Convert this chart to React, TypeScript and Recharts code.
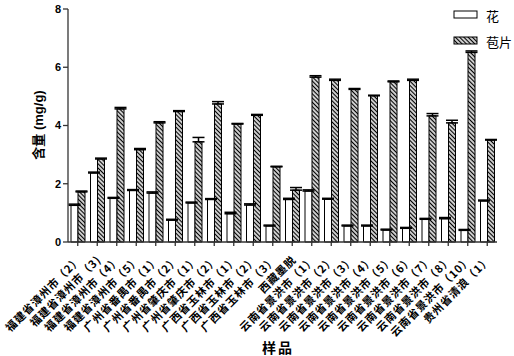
import React from 'react';
import { BarChart, Bar, XAxis, YAxis, ErrorBar, Legend, Label } from 'recharts';

const categories = [
  '福建省漳州市（2）',
  '福建省漳州市（3)',
  '福建省漳州市（4）',
  '福建省漳州市（5）',
  '广州省番禺市（1）',
  '广州省番禺市（2）',
  '广州省肇庆市（1）',
  '广州省肇庆市（2）',
  '广西省玉林市（1）',
  '广西省玉林市（2）',
  '广西省玉林市（3）',
  '西藏墨脱',
  '云南省景洪市（1）',
  '云南省景洪市（2）',
  '云南省景洪市（3）',
  '云南省景洪市（4）',
  '云南省景洪市（5）',
  '云南省景洪市（6）',
  '云南省景洪市（7）',
  '云南省景洪市（8）',
  '云南省景洪市（10）',
  '贵州省清浪（1）',
];

const flower = [1.26, 2.37, 1.5, 1.77, 1.68, 0.75, 1.34, 1.46, 0.97, 1.27, 0.55, 1.46, 1.75, 1.47, 0.55, 0.55, 0.41, 0.47, 0.78, 0.8, 0.4, 1.41];
const bract = [1.72, 2.85, 4.57, 3.17, 4.09, 4.48, 3.44, 4.74, 4.05, 4.35, 2.58, 1.78, 5.66, 5.55, 5.24, 5.02, 5.5, 5.55, 4.33, 4.09, 6.51, 3.5];
const flowerErr = [0.04, 0.03, 0.03, 0.03, 0.04, 0.03, 0.03, 0.03, 0.05, 0.04, 0.03, 0.04, 0.04, 0.03, 0.03, 0.03, 0.03, 0.03, 0.03, 0.04, 0.03, 0.03];
const bractErr = [0.03, 0.03, 0.05, 0.04, 0.04, 0.03, 0.15, 0.08, 0.02, 0.03, 0.02, 0.09, 0.05, 0.04, 0.03, 0.02, 0.03, 0.04, 0.08, 0.09, 0.05, 0.02];
const yTicks = [0, 2, 4, 6, 8];
const seriesNames = ['花', '苞片'];

const data = categories.map((name, i) => ({
  name,
  flower: flower[i],
  bract: bract[i],
  fe: [0, flowerErr[i]],
  be: [0, bractErr[i]],
}));

const CJK = '"Noto Sans CJK SC", sans-serif';
const LAT = '"Liberation Sans", "Noto Sans CJK SC", sans-serif';

const CatTick = (props: any) => {
  const { x, y, payload } = props;
  const ax = x + 1;
  const ay = y + 9;
  return (
    <text
      x={ax}
      y={ay}
      textAnchor="end"
      dominantBaseline="central"
      transform={`rotate(-45 ${ax} ${ay})`}
      fontFamily={CJK}
      fontWeight="bold"
      fontSize={11}
      letterSpacing={0.8}
      fill="#000"
    >
      {payload.value}
    </text>
  );
};

const renderLegend = () => (
  <svg width={64} height={50}>
    <rect x={4} y={11} width={23} height={7} fill="#fff" stroke="#000" strokeWidth={1} />
    <text x={36} y={15} dominantBaseline="central" fontFamily={CJK} fontSize={13} fill="#000">
      {seriesNames[0]}
    </text>
    <rect x={4} y={37} width={23} height={7} fill="url(#hatch)" stroke="#000" strokeWidth={1} />
    <text x={36} y={41} dominantBaseline="central" fontFamily={CJK} fontSize={13} fill="#000">
      {seriesNames[1]}
    </text>
  </svg>
);

export default function App() {
  return (
    <div style={{ position: 'absolute', left: 0, top: 0 }}>
      <BarChart
        width={514}
        height={356}
        data={data}
        margin={{ top: 9, right: 17, left: 0, bottom: 0 }}
        barGap={0}
        barSize={7}
      >
        <defs>
          <pattern id="hatch" patternUnits="userSpaceOnUse" width={3} height={3} patternTransform="rotate(45)">
            <rect x={0} y={0} width={3} height={3} fill="#fff" />
            <line x1={0} y1={1.5} x2={3} y2={1.5} stroke="#000" strokeWidth={1.4} />
          </pattern>
        </defs>
        <XAxis
          dataKey="name"
          interval={0}
          height={114}
          tick={<CatTick />}
          tickSize={4}
          axisLine={{ stroke: '#333', strokeWidth: 1.3 }}
          tickLine={{ stroke: '#333', strokeWidth: 1.3 }}
        >
          <Label
            content={() => (
              <text x={278} y={347} textAnchor="middle" dominantBaseline="central" fontFamily={CJK} fontWeight="bold" fontSize={14} letterSpacing={2} fill="#000">
                样品
              </text>
            )}
          />
        </XAxis>
        <YAxis
          width={68}
          domain={[0, 8]}
          ticks={yTicks}
          tickSize={5}
          tick={{ fontFamily: LAT, fontWeight: 'bold', fontSize: 11, fill: '#000' }}
          axisLine={{ stroke: '#333', strokeWidth: 1.3 }}
          tickLine={{ stroke: '#333', strokeWidth: 1.3 }}
        >
          <Label
            content={() => (
              <text
                x={38}
                y={125}
                textAnchor="middle"
                dominantBaseline="central"
                transform="rotate(-90 38 125)"
                fontFamily={LAT}
                fontWeight="bold"
                fontSize={13}
                fill="#000"
              >
                含量  (mg/g)
              </text>
            )}
          />
        </YAxis>
        <Legend
          layout="horizontal"
          align="center"
          verticalAlign="middle"
          content={renderLegend}
          wrapperStyle={{ top: 0, left: 450, width: 64 }}
        />
        <Bar dataKey="flower" name={seriesNames[0]} fill="#fff" stroke="#000" strokeWidth={1} isAnimationActive={false}>
          <ErrorBar dataKey="fe" width={6} stroke="#000" strokeWidth={1.5} isAnimationActive={false} />
        </Bar>
        <Bar dataKey="bract" name={seriesNames[1]} fill="url(#hatch)" stroke="#000" strokeWidth={1} isAnimationActive={false}>
          <ErrorBar dataKey="be" width={6} stroke="#000" strokeWidth={1.5} isAnimationActive={false} />
        </Bar>
      </BarChart>
    </div>
  );
}
